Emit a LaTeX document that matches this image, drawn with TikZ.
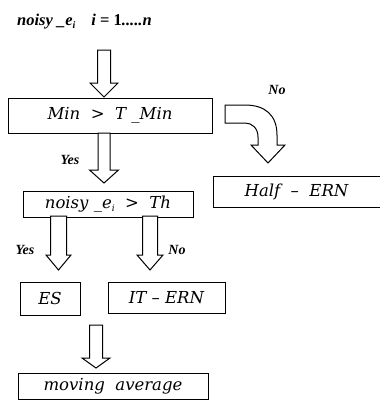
\documentclass[tikz,border=0pt]{standalone}
\usepackage{fontspec}
\setmainfont{DejaVu Serif}
\newfontfamily\tfont{Liberation Serif}
\newcommand\dnarrow[7]{% cx, ytop, yhead, ytip, shaft half, head half, name
  \draw[arr] (#1-#5,#2) coordinate (#7top) -- (#1+#5,#2) -- (#1+#5,#3) -- (#1+#6,#3) -- (#1,#4) coordinate (#7tip) -- (#1-#6,#3) -- (#1-#5,#3) -- cycle;}
\begin{document}
\begin{tikzpicture}[x=1pt,y=-1pt,
  box/.style={draw, line width=1pt, inner sep=0pt, font=\fontsize{16.5}{18}\selectfont\itshape},
  arr/.style={draw, line width=1pt, line join=miter, fill=white},
  lab/.style={inner sep=0pt, font=\tfont\fontsize{14}{16}\selectfont\bfseries\itshape}]
\useasboundingbox (0,0) rectangle (380,400);
% title
\node[anchor=base west, inner sep=0pt, font=\tfont\fontsize{16.5}{18}\selectfont\bfseries\itshape] (title) at (17,25)
  {noisy \_e\raisebox{-3pt}{\fontsize{10}{10}\selectfont i}\hspace{16pt}i {\upshape =} {\upshape 1}.....n};
% boxes
\node[box, minimum width=204, minimum height=35] (b1) at (110,115.5) {Min \ > \ T \_Min};
\node[box, minimum width=167, minimum height=31] (half) at (296.5,192) {Half \ -- \ ERN};
\node[box, minimum width=170, minimum height=26] (b2) at (108,204) {noisy \_e\raisebox{-3pt}{\fontsize{9}{9}\selectfont i} \ > \ Th};
\node[box, minimum width=60, minimum height=33] (es) at (50,298.5) {ES};
\node[box, minimum width=117, minimum height=31] (it) at (166.5,297.5) {IT -- ERN};
\node[box, minimum width=190, minimum height=26] (ma) at (113,386) {moving \ average};
% block arrows
\dnarrow{104}{50}{83}{97}{6.5}{14}{a1}
\dnarrow{104}{133}{170}{183}{6}{14.5}{a2}
\dnarrow{58.5}{216}{255}{270}{8}{12.5}{a3}
\dnarrow{150}{216}{255}{270}{7.5}{13}{a4}
\dnarrow{96}{325}{358}{368}{6.5}{14}{a5}
% curved arrow
\draw[arr] (225,105) -- (245,105) .. controls (265,105) and (277,115) .. (277,135) -- (277,145)
  -- (285,145) -- (268,163) -- (251,145) -- (258,145) -- (258,137)
  .. controls (258,128) and (252,123) .. (245,123) -- (225,123) -- cycle;
% labels
\node[lab] (no1) at (277,90) {No};
\node[lab] (yes1) at (70,160) {Yes};
\node[lab] (yes2) at (25,250) {Yes};
\node[lab] (no2) at (177,250) {No};
\end{tikzpicture}
\end{document}
